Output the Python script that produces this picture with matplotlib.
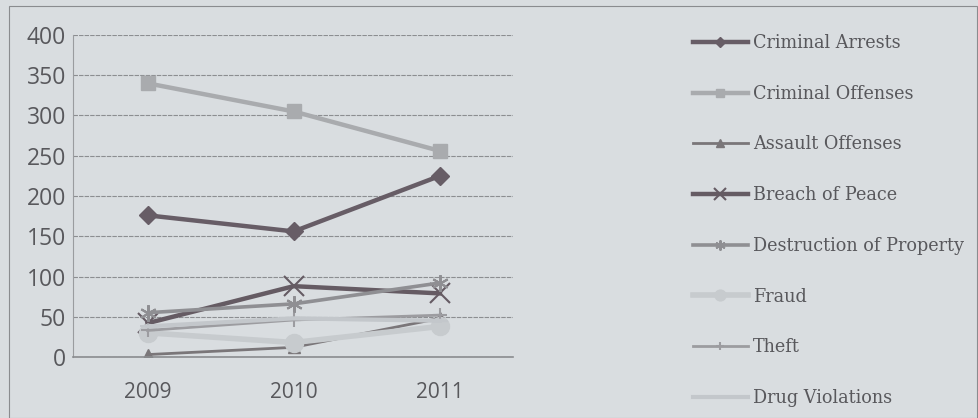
import matplotlib
matplotlib.use("Agg")
import matplotlib.pyplot as plt
from matplotlib.patches import Rectangle

years = ["2009", "2010", "2011"]
series_names = ["Criminal Arrests", "Criminal Offenses", "Assault Offenses", "Breach of Peace",
                "Destruction of Property", "Fraud", "Theft", "Drug Violations"]
criminal_arrests = [176, 156, 225]
criminal_offenses = [340, 305, 256]
assault_offenses = [3, 12, 48]
breach_of_peace = [42, 88, 79]
destruction_of_property = [55, 66, 92]
fraud = [30, 18, 38]
theft = [33, 46, 52]
drug_violations = [38, 48, 45]
y_ticks = [0, 50, 100, 150, 200, 250, 300, 350, 400]

values = [criminal_arrests, criminal_offenses, assault_offenses, breach_of_peace,
          destruction_of_property, fraud, theft, drug_violations]
# colour, marker, marker size, line width
styles = [
    ("#675d66", "D", 9, 3.2),
    ("#a9abae", "s", 10, 3.2),
    ("#7a7679", "^", 9, 2.0),
    ("#655b63", "x", 14, 3.2),
    ("#8f8f93", (6, 2, 0), 12, 2.6),
    ("#c7cbce", "o", 13, 4.0),
    ("#9c9ca0", "+", 10, 2.0),
    ("#c3c7cb", "_", 12, 3.0),
]

BG = "#d9dde0"
fig = plt.figure(figsize=(9.79, 4.18), dpi=100, facecolor=BG)
fig.patches.append(Rectangle((9 / 979, 0.0), 968 / 979, 412 / 418, transform=fig.transFigure,
                             fill=False, edgecolor="#8a8c8f", linewidth=0.8))

ax = fig.add_axes([73 / 979, 61 / 418, 440 / 979, 322 / 418])
ax.set_facecolor(BG)
x = list(range(len(years)))
for name, vals, (col, mk, ms, lw) in zip(series_names, values, styles):
    mew = 1.5 if mk in ("x", "+", "_", (6, 2, 0)) else 1.0
    ax.plot(x, vals, color=col, linewidth=lw, marker=mk, markersize=ms,
            markeredgewidth=mew, markeredgecolor=col, markerfacecolor=col, label=name)

ax.set_xlim(-0.51, 2.5)
ax.set_ylim(0, 400)
ax.set_yticks(y_ticks)
ax.set_yticklabels([str(t) for t in y_ticks], fontsize=16.5, family="Open Sans", color="#58585c")
ax.set_xticks(x)
ax.set_xticklabels(years, fontsize=15, family="Open Sans", color="#58585c")
ax.tick_params(axis="both", length=0)
ax.tick_params(axis="y", pad=5)
ax.tick_params(axis="x", pad=18)
ax.grid(axis="y", color="#8c8e91", linewidth=0.8, linestyle=(0, (4, 1)))
ax.set_axisbelow(True)
for s in ("top", "right"):
    ax.spines[s].set_visible(False)
ax.spines["left"].set_color("#9a9c9f")
ax.spines["bottom"].set_color("#8a8c8f")
ax.spines["bottom"].set_linewidth(1.2)

handles, labels = ax.get_legend_handles_labels()
leg = fig.legend(handles, labels, loc="upper left", bbox_to_anchor=(693 / 979, 1 - 34 / 418),
                 frameon=False, prop={"family": "DejaVu Serif", "size": 12.7},
                 handlelength=3.1, handletextpad=0.3, labelspacing=1.855, markerscale=0.6,
                 borderaxespad=0, borderpad=0)
for t in leg.get_texts():
    t.set_color("#58585c")

fig.savefig("out.png", dpi=100, facecolor=BG)
